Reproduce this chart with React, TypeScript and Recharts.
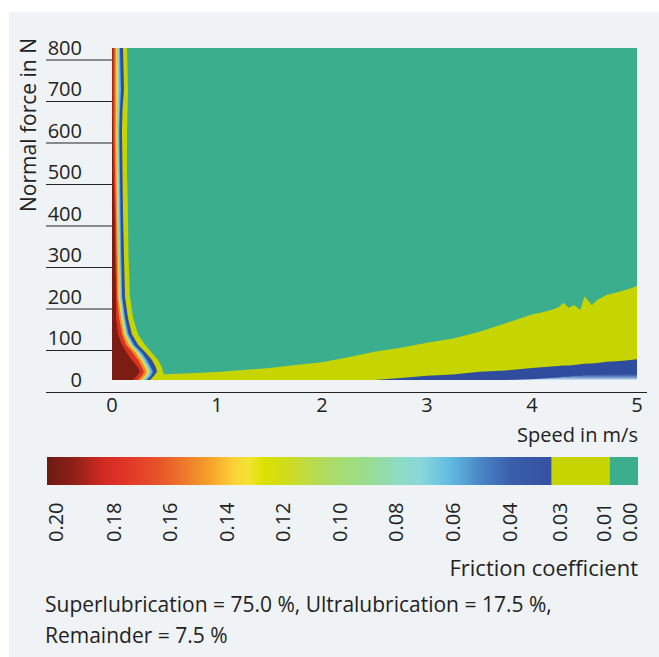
import {
  Area,
  Bar,
  BarChart,
  CartesianGrid,
  ComposedChart,
  XAxis,
  YAxis,
} from "recharts";

// bottom bands, read along the speed axis (m/s -> normal force in N)
const speeds = [0, 0.5, 0.75, 1, 1.25, 1.5, 1.75, 2, 2.25, 2.5, 2.75, 3, 3.25, 3.5, 3.75, 4, 4.15, 4.25, 4.3, 4.35, 4.4, 4.46, 4.5, 4.57, 4.62, 4.71, 4.84, 4.96, 5];
const ultraTop = [14, 14, 16, 19, 24, 29, 36, 43, 55, 68, 78, 90, 100, 116, 137, 158, 166, 175, 186, 174, 181, 169, 201, 181, 193, 205, 213, 222, 227];
const blueTop = [0, 0, 0, 0, 0, 0, 0, 0, 0, 0, 5, 10, 13, 20, 23, 29, 32, 34, 35, 35, 36, 38, 39, 40, 41, 44, 46, 49, 50];
const frostDepth = [0, 0, 0, 0, 0, 0, 0, 0, 0, 0, 0, 0, 0, 0, 0, 2, 4, 6, 8, 8, 10, 10, 12, 12, 12, 14, 14, 15, 15];

// low-speed strip, read along the force axis (N -> speed in m/s)
const forces = [0, 10, 20, 30, 48, 65, 85, 110, 150, 200, 300, 400, 500, 600, 650, 700, 800];
const darkRedEdge = [0.2, 0.238, 0.267, 0.248, 0.19, 0.143, 0.095, 0.057, 0.038, 0.038, 0.029, 0.024, 0.014, 0.008, 0.005, 0.005, 0.005];
const redEdge = [0.248, 0.286, 0.305, 0.286, 0.248, 0.2, 0.133, 0.095, 0.067, 0.048, 0.043, 0.036, 0.029, 0.024, 0.024, 0.024, 0.024];
const orangeEdge = [0.276, 0.314, 0.333, 0.314, 0.276, 0.229, 0.162, 0.114, 0.086, 0.062, 0.055, 0.05, 0.043, 0.038, 0.038, 0.038, 0.038];
const yellowEdge = [0.295, 0.333, 0.352, 0.333, 0.295, 0.248, 0.181, 0.129, 0.1, 0.074, 0.064, 0.058, 0.052, 0.048, 0.048, 0.052, 0.048];
const cyanEdge = [0.314, 0.352, 0.371, 0.352, 0.314, 0.267, 0.195, 0.143, 0.114, 0.088, 0.078, 0.071, 0.067, 0.062, 0.067, 0.071, 0.067];
const skyEdge = [0.333, 0.371, 0.39, 0.371, 0.333, 0.286, 0.21, 0.157, 0.124, 0.097, 0.088, 0.081, 0.076, 0.071, 0.076, 0.086, 0.076];
const blueEdge = [0.362, 0.4, 0.429, 0.419, 0.381, 0.324, 0.248, 0.19, 0.152, 0.124, 0.114, 0.105, 0.1, 0.095, 0.1, 0.114, 0.105];
const limeEdge = [0.505, 0.495, 0.486, 0.476, 0.438, 0.381, 0.314, 0.248, 0.2, 0.171, 0.157, 0.152, 0.143, 0.143, 0.148, 0.152, 0.143];

const speedTicks = [0, 1, 2, 3, 4, 5];
const forceTicks = [0, 100, 200, 300, 400, 500, 600, 700, 800];

// colour bar: spans in % of bar length, tick labels and where they sit
const colorbarSpans = [85.4, 9.8, 4.8];
const colorbarTickPos = [1.5, 11.2, 20.8, 30.3, 39.9, 49.5, 59, 68.6, 78.2, 86.7, 94.1, 98.5];
const colorbarTickLabels = ["0.20", "0.18", "0.16", "0.14", "0.12", "0.10", "0.08", "0.06", "0.04", "0.03", "0.01", "0.00"];
const gradientStops = [
  [0, "#6e1a12"], [5, "#8c2017"], [11, "#d02a22"], [15, "#e03328"], [22, "#e8522a"],
  [28, "#f07f2a"], [33, "#f8a82c"], [37, "#fcd23a"], [40, "#f3e430"], [43, "#dde000"],
  [48, "#cddc20"], [53, "#b8dc50"], [58, "#a6dc72"], [64, "#98dc92"], [70, "#8ddcc6"],
  [74, "#8ad8d8"], [78, "#6ec4e0"], [81, "#5cb2de"], [86, "#4a84c4"], [92, "#3a5eac"], [100, "#3650a2"],
];

const GREEN = "#3aae8d";
const LIME = "#c6d500";
const BLUE = "#2f4c9f";
const TEXT = "#222";
const FONT = "'Open Sans', sans-serif";

const bandRows = speeds.map((s, i) => ({ speed: s, ultra: ultraTop[i], blue: blueTop[i], frost: frostDepth[i] }));
const stripRows = forces.map((f, i) => ({
  force: f,
  lime: limeEdge[i],
  blue: blueEdge[i],
  sky: skyEdge[i],
  cyan: cyanEdge[i],
  yellow: yellowEdge[i],
  orange: orangeEdge[i],
  red: redEdge[i],
  darkRed: darkRedEdge[i],
}));
const stripLayers = [
  { key: "lime", color: LIME },
  { key: "blue", color: BLUE },
  { key: "sky", color: "#5aa9dc" },
  { key: "cyan", color: "#8ad6d0" },
  { key: "yellow", color: "#f6d83a" },
  { key: "orange", color: "#f0892a" },
  { key: "red", color: "#d83224" },
  { key: "darkRed", color: "#7c1d14" },
];
const colorbarRow = [{ name: "mu", grad: colorbarSpans[0], ultra: colorbarSpans[1], superl: colorbarSpans[2] }];

const YTick = (props: any) => {
  const { x, y, payload } = props;
  return (
    <g>
      <text x={x - 30} y={y - 1} textAnchor="end" dominantBaseline="central" fill={TEXT} fontSize={20} fontFamily={FONT}>
        {payload.value}
      </text>
      {payload.value !== 0 && <line x1={x - 66} x2={x} y1={y + 12} y2={y + 12} stroke={TEXT} strokeWidth={1.2} />}
    </g>
  );
};

const XTick = (props: any) => {
  const { x, y, payload } = props;
  return (
    <text x={x} y={y + 24} textAnchor="middle" dominantBaseline="central" fill={TEXT} fontSize={20} fontFamily={FONT}>
      {payload.value}
    </text>
  );
};

const CbTick = (props: any) => {
  const { x, y, index } = props;
  return (
    <text
      transform={`translate(${x},${y + 57}) rotate(-90)`}
      textAnchor="start"
      dominantBaseline="central"
      fill={TEXT}
      fontSize={20}
      fontFamily={FONT}
    >
      {colorbarTickLabels[index]}
    </text>
  );
};

export default function App() {
  return (
    <div style={{ position: "absolute", left: 0, top: 0, width: 659, height: 657, background: "#fff", fontFamily: FONT }}>
      <div style={{ position: "absolute", left: 9, top: 12, right: 0, bottom: 0, background: "#eff3f5" }} />

      <div style={{ position: "absolute", left: 0, top: 0 }}>
        <ComposedChart width={659} height={450} data={bandRows} margin={{ top: 48, right: 22, bottom: 0, left: 32 }}>
          <defs>
            <linearGradient id="frostGrad" x1="0" y1="0" x2="0" y2="1">
              <stop offset="0%" stopColor="#6aa8dc" stopOpacity={0} />
              <stop offset="100%" stopColor="#d4edf6" stopOpacity={1} />
            </linearGradient>
          </defs>
          <CartesianGrid fill={GREEN} horizontal={false} vertical={false} />
          <XAxis
            type="number"
            dataKey="speed"
            domain={[0, 5]}
            ticks={speedTicks}
            height={70}
            axisLine={false}
            tickLine={false}
            tickSize={0}
            tickMargin={0}
            tick={XTick}
            label={{
              content: ({ viewBox }: any) => (
                <text x={viewBox.x + viewBox.width + 1} y={viewBox.y + 54} textAnchor="end" dominantBaseline="central" fill={TEXT} fontSize={20} fontFamily={FONT}>
                  Speed in m/s
                </text>
              ),
            }}
          />
          <YAxis
            type="number"
            domain={[0, 800]}
            ticks={forceTicks}
            width={80}
            axisLine={false}
            tickLine={false}
            tickSize={0}
            tickMargin={0}
            tick={YTick}
            label={{
              content: ({ viewBox }: any) => (
                <text transform={`translate(${viewBox.x - 4},${viewBox.y - 10}) rotate(-90)`} textAnchor="end" dominantBaseline="central" fill={TEXT} fontSize={21} fontFamily={FONT}>
                  Normal force in N
                </text>
              ),
            }}
          />
          <Area type="linear" dataKey="ultra" stroke="none" fill={LIME} fillOpacity={1} isAnimationActive={false} />
          <Area type="linear" dataKey="blue" stroke="none" fill={BLUE} fillOpacity={1} isAnimationActive={false} />
          <Area type="linear" dataKey="frost" stroke="none" fill="url(#frostGrad)" fillOpacity={1} isAnimationActive={false} />
        </ComposedChart>
      </div>

      <div style={{ position: "absolute", left: 0, top: 0 }}>
        <ComposedChart layout="vertical" width={659} height={450} data={stripRows} margin={{ top: 48, right: 22, bottom: 70, left: 112 }}>
          <XAxis type="number" domain={[0, 5]} hide />
          <YAxis type="number" dataKey="force" domain={[0, 800]} reversed hide />
          {stripLayers.map((l) => (
            <Area key={l.key} type="linear" dataKey={l.key} stroke="none" fill={l.color} fillOpacity={1} isAnimationActive={false} />
          ))}
        </ComposedChart>
      </div>

      <div style={{ position: "absolute", left: 46, top: 392, width: 601, height: 1, background: TEXT }} />

      <div style={{ position: "absolute", left: 0, top: 440 }}>
        <BarChart layout="vertical" width={659} height={200} data={colorbarRow} barCategoryGap={0} margin={{ top: 17, right: 21, bottom: 75, left: 47 }}>
          <defs>
            <linearGradient id="cbGrad" x1="0" y1="0" x2="1" y2="0">
              {gradientStops.map(([o, c]) => (
                <stop key={o as number} offset={`${o}%`} stopColor={c as string} />
              ))}
            </linearGradient>
          </defs>
          <XAxis
            type="number"
            domain={[0, 100]}
            ticks={colorbarTickPos}
            height={80}
            axisLine={false}
            tickLine={false}
            tickSize={0}
            tickMargin={0}
            tick={CbTick}
            interval={0}
            label={{
              content: ({ viewBox }: any) => (
                <text x={viewBox.x + viewBox.width} y={viewBox.y + 82} textAnchor="end" dominantBaseline="central" fill={TEXT} fontSize={22} fontFamily={FONT}>
                  Friction coefficient
                </text>
              ),
            }}
          />
          <YAxis type="category" dataKey="name" hide />
          <Bar dataKey="grad" stackId="cb" fill="url(#cbGrad)" isAnimationActive={false} />
          <Bar dataKey="ultra" stackId="cb" fill={LIME} isAnimationActive={false} />
          <Bar dataKey="superl" stackId="cb" fill={GREEN} isAnimationActive={false} />
        </BarChart>
      </div>

      <div style={{ position: "absolute", left: 45, top: 589, fontSize: 21, lineHeight: "31px", color: TEXT, fontFamily: FONT }}>
        <div>Superlubrication = 75.0 %, Ultralubrication = 17.5 %,</div>
        <div>Remainder = 7.5 %</div>
      </div>
    </div>
  );
}
